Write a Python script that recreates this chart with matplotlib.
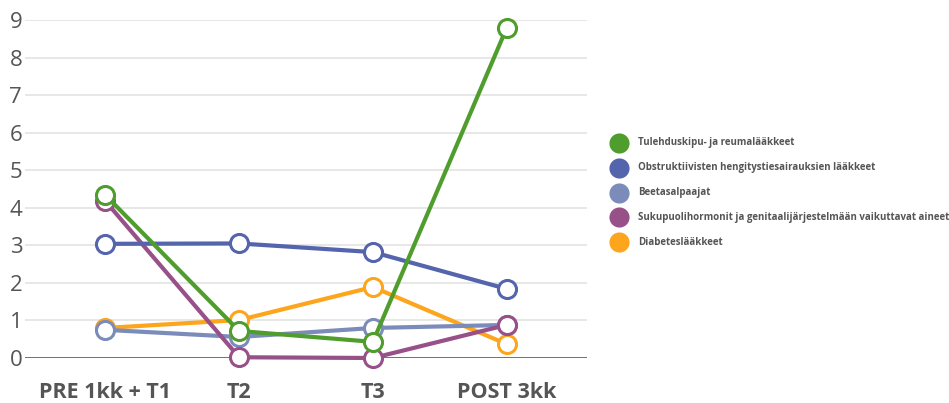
import matplotlib.pyplot as plt
from matplotlib.lines import Line2D

plt.rcParams['font.family'] = ['Open Sans', 'DejaVu Sans']

periods = ['PRE 1kk + T1', 'T2', 'T3', 'POST 3kk']
series_names = [
    'Tulehduskipu- ja reumalääkkeet',
    'Obstruktiivisten hengitystiesairauksien lääkkeet',
    'Beetasalpaajat',
    'Sukupuolihormonit ja genitaalijärjestelmään vaikuttavat aineet',
    'Diabeteslääkkeet',
]
tulehdus = [4.34, 0.72, 0.43, 8.79]
obstruktiiviset = [3.04, 3.05, 2.82, 1.84]
beetasalpaajat = [0.75, 0.56, 0.80, 0.88]
sukupuoli = [4.18, 0.02, 0.00, 0.88]
diabetes = [0.80, 1.01, 1.89, 0.37]
colors = ['#4f9d2d', '#5464ad', '#7b8cba', '#985089', '#fca51d']

values = [tulehdus, obstruktiiviset, beetasalpaajat, sukupuoli, diabetes]
zorders = [7, 6, 4, 5, 3]

fig = plt.figure(figsize=(9.49, 4.03), dpi=100)
ax = fig.add_axes([25 / 949, (403 - 358) / 403, (587 - 25) / 949, 338 / 403])

x = list(range(len(periods)))
for name, vals, c, z in zip(series_names, values, colors, zorders):
    ax.plot(x, vals, color=c, lw=3, marker='o', markersize=13,
            markerfacecolor='white', markeredgecolor=c, markeredgewidth=2.2,
            zorder=z, clip_on=False, label=name)

ax.set_xlim(-0.6, 3.6)
ax.set_ylim(0, 9)
ax.set_yticks(range(10))
ax.set_xticks(x)
ax.set_xticklabels(periods, fontsize=15.5, fontweight='bold', color='#555555')
ax.tick_params(axis='y', labelsize=16, labelcolor='#555555', length=0, pad=2)
ax.tick_params(axis='x', length=0, pad=17)
ax.grid(axis='y', color='#e3e3e3', lw=1.2, zorder=0)
ax.axhline(0, color='#666666', lw=2, zorder=1)
for s in ax.spines.values():
    s.set_visible(False)
ax.set_axisbelow(True)

# legend: colored dots with labels
for i, (name, c) in enumerate(zip(series_names, colors)):
    yy = (403 - (143 + i * 24.8)) / 403
    fig.add_artist(Line2D([619 / 949], [yy], marker='o', markersize=14.5,
                          color=c, markeredgewidth=0, transform=fig.transFigure))
    fig.text(638 / 949, yy, name, color='#555555', fontsize=7, fontweight='bold',
             ha='left', va='center')

fig.savefig('out.png', dpi=100)
